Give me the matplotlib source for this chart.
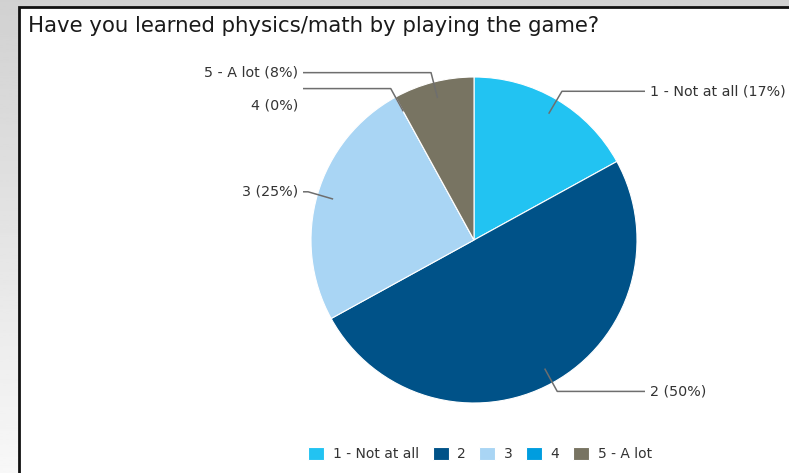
import numpy as np
import matplotlib.pyplot as plt
from matplotlib.patches import Rectangle

# Survey answers (percent of respondents)
categories = ['1 - Not at all', '2', '3', '4', '5 - A lot']
shares = [17, 50, 25, 0, 8]
colors = ['#22c3f2', '#005288', '#a9d5f4', '#009ddf', '#787462']
title = 'Have you learned physics/math by playing the game?'

W, H = 789, 473
fig = plt.figure(figsize=(W / 100, H / 100), dpi=100)

# page background: soft grey gradient behind the panel
bg = fig.add_axes([0, 0, 1, 1])
grad = np.linspace(0.82, 0.97, 256).reshape(-1, 1)
bg.imshow(grad, cmap='gray', vmin=0, vmax=1, aspect='auto', extent=[0, 1, 0, 1])
bg.axis('off')

# main axes in pixel units (y up)
ax = fig.add_axes([0, 0, 1, 1])
ax.patch.set_alpha(0)

ax.add_patch(Rectangle((19.5, -20), 900, H - 7 + 20, facecolor='white',
                       edgecolor='#111111', lw=2, clip_on=False, zorder=0))

ax.text(28, H - 26, title, fontsize=15.3, color='#1a1a1a', va='center', ha='left')

cx, cy, r = 474, H - 240, 163
wedges, _ = ax.pie(shares, colors=colors, startangle=90, counterclock=False,
                   center=(cx, cy), radius=r, frame=True,
                   wedgeprops=dict(edgecolor='white', linewidth=0.8))
ax.set_xlim(0, W)
ax.set_ylim(0, H)
ax.set_aspect('equal')
ax.axis('off')

# leader lines and labels
left_x, right_x = 303, 645
label_dy = [0, 0, 0, -17, 0]
total = sum(shares)
start = 0.0
for i, (name, v) in enumerate(zip(categories, shares)):
    mid = np.radians((start + v / 2) / total * 360)
    start += v
    sx, sy = np.sin(mid), np.cos(mid)
    p0 = (cx + 0.9 * r * sx, cy + 0.9 * r * sy)
    p1 = (cx + 1.06 * r * sx, cy + 1.06 * r * sy)
    right = sx >= 0
    p2x = right_x if right else left_x
    ax.plot([p0[0], p1[0], p2x], [p0[1], p1[1], p1[1]], color='#6e6e6e',
            lw=1.1, solid_capstyle='butt', zorder=5)
    label = f'{name} ({v}%)'
    tx = p2x + 5 if right else p2x - 5
    ax.text(tx, p1[1] + label_dy[i], label, fontsize=10.3, color='#333333',
            ha='left' if right else 'right', va='center')

ax.legend(wedges, categories, loc='center', ncol=5, frameon=False,
          bbox_to_anchor=(480 / W, 19 / H), fontsize=10,
          handlelength=1.15, handleheight=1.15, handletextpad=0.6,
          columnspacing=1.0, labelcolor='#333333')

fig.savefig('out.png', dpi=100)
